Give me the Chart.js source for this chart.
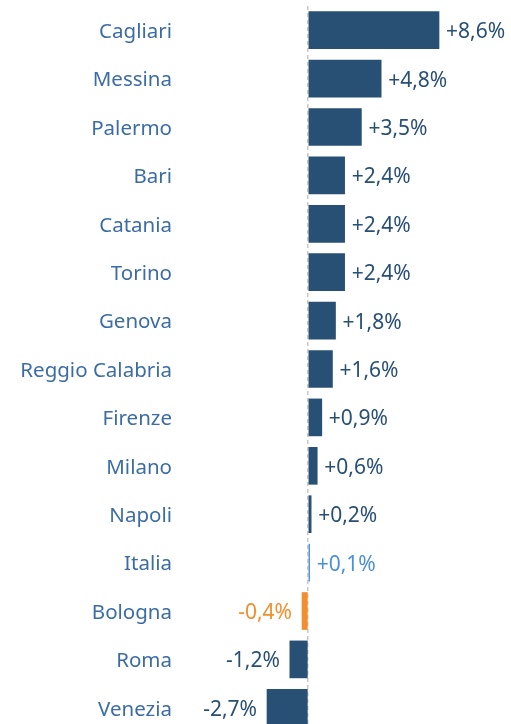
<!DOCTYPE html>
<html>
<head>
<meta charset="utf-8">
<script src="https://cdn.jsdelivr.net/npm/chart.js@4"></script>
<style>
  html, body { margin: 0; padding: 0; background: #fff; overflow: hidden; }
  #wrap { width: 511px; height: 732px; position: relative; }
</style>
</head>
<body>
<div id="wrap"><canvas id="barChart"></canvas></div>
<script>
const cities = ['Cagliari', 'Messina', 'Palermo', 'Bari', 'Catania', 'Torino', 'Genova',
  'Reggio Calabria', 'Firenze', 'Milano', 'Napoli', 'Italia', 'Bologna', 'Roma', 'Venezia'];
const variazione = [8.6, 4.8, 3.5, 2.4, 2.4, 2.4, 1.8, 1.6, 0.9, 0.6, 0.2, 0.1, -0.4, -1.2, -2.7];

const DARK = '#284f74';
const LIGHT = '#4a90d9';
const ORANGE = '#f28e2b';

function colorFor(name) {
    if (name === 'Italia') return LIGHT;
    if (name === 'Bologna') return ORANGE;
    return DARK;
}

// etichette con il valore accanto a ogni barra
const valueLabels = {
    id: 'valueLabels',
    afterDatasetsDraw(chart) {
        const ctx = chart.ctx;
        const meta = chart.getDatasetMeta(0);
        const x = chart.scales.x;
        ctx.save();
        ctx.font = '21px "Noto Sans"';
        ctx.textBaseline = 'middle';
        meta.data.forEach((bar, i) => {
            const v = variazione[i];
            const txt = (v >= 0 ? '+' : '') + v.toFixed(1).replace('.', ',') + '%';
            ctx.fillStyle = colorFor(cities[i]);
            if (v >= 0) {
                ctx.textAlign = 'left';
                ctx.fillText(txt, x.getPixelForValue(v) + 7, bar.y + 2);
            } else {
                ctx.textAlign = 'right';
                ctx.fillText(txt, x.getPixelForValue(v) - 10, bar.y + 2);
            }
        });
        ctx.restore();
    }
};

const ctx = document.getElementById('barChart').getContext('2d');
new Chart(ctx, {
    type: 'bar',
    data: {
        labels: cities,
        datasets: [{
            data: variazione,
            backgroundColor: cities.map(colorFor),
            barThickness: 37,
            borderWidth: 0
        }]
    },
    options: {
        indexAxis: 'y',
        responsive: true,
        maintainAspectRatio: false,
        animation: false,
        layout: { padding: { top: 6, right: 0, bottom: 0, left: 0 } },
        plugins: {
            legend: { display: false },
            tooltip: { enabled: false }
        },
        scales: {
            x: {
                min: -5,
                max: 13.33,
                afterBuildTicks: scale => { scale.ticks = [{ value: 0 }]; },
                ticks: { display: false },
                grid: {
                    color: '#c8c8c8',
                    lineWidth: 1.5,
                    drawTicks: false
                },
                border: { display: false, dash: [4, 3] }
            },
            y: {
                afterFit: scale => {
                    scale.width = 232;
                    scale.paddingTop = 0;
                    scale.paddingBottom = 0;
                },
                grid: { display: false, drawTicks: false },
                border: { display: false },
                ticks: {
                    color: '#3b6ca6',
                    padding: 60,
                    labelOffset: 2,
                    font: { family: 'Noto Sans', size: 20.5 }
                }
            }
        }
    },
    plugins: [valueLabels]
});
</script>
</body>
</html>
